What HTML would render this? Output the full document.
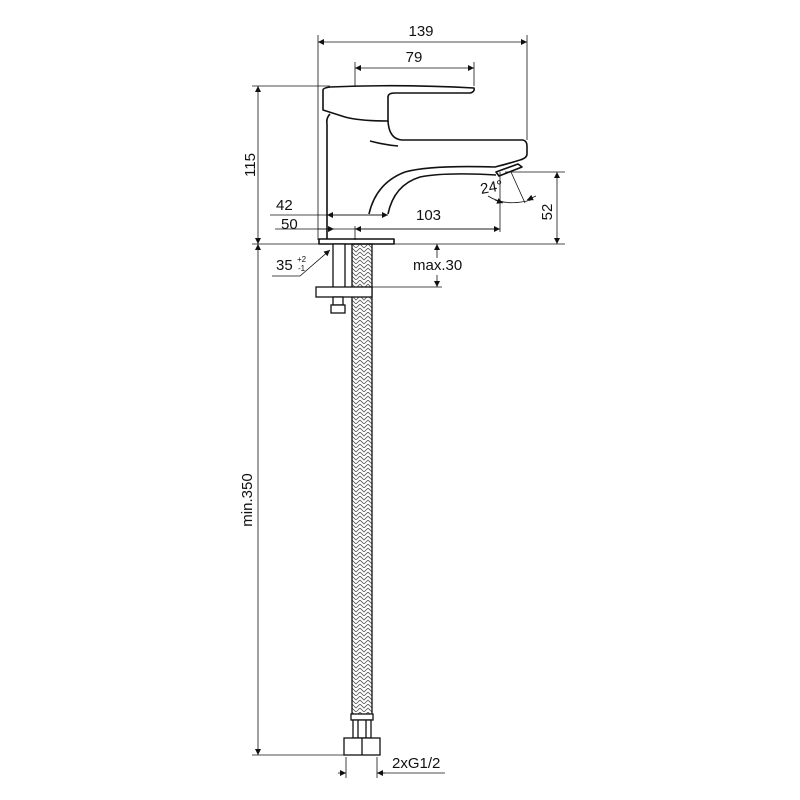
<!DOCTYPE html>
<html><head><meta charset="utf-8"><style>
html,body{margin:0;padding:0;background:#fff;width:800px;height:800px;overflow:hidden}
text{font-family:"Liberation Sans",Arial,sans-serif;font-size:15px;fill:#111}
</style></head><body>
<svg width="800" height="800" viewBox="0 0 800 800" xmlns="http://www.w3.org/2000/svg">
<defs>
<marker id="a" viewBox="0 0 10 10" refX="10" refY="5" markerWidth="10" markerHeight="6" orient="auto-start-reverse" markerUnits="userSpaceOnUse"><path d="M0,0L10,5L0,10z" fill="#111"/></marker>
<pattern id="br" width="8" height="8" patternUnits="userSpaceOnUse"><path d="M0,0L4,4L8,0M0,4L4,8L8,4" stroke="#555" stroke-width="0.8" fill="none"/></pattern>
</defs>
<g stroke="#111" fill="none" stroke-width="0.8">
<line x1="318" y1="35" x2="318" y2="240"/>
<line x1="527" y1="35" x2="527" y2="140"/>
<line x1="355" y1="62" x2="355" y2="87"/>
<line x1="474" y1="62" x2="474" y2="86"/>
<line x1="252" y1="86" x2="330" y2="86"/>
<line x1="252" y1="244" x2="565" y2="244"/>
<line x1="505" y1="172" x2="565" y2="172"/>
<line x1="270" y1="215" x2="388" y2="215"/>
<line x1="275" y1="229" x2="500" y2="229"/>
<line x1="500" y1="172" x2="500" y2="232"/>
<line x1="355" y1="226" x2="355" y2="240"/>
<line x1="372" y1="287" x2="442" y2="287"/>
<line x1="252" y1="755" x2="345" y2="755"/>
<line x1="346" y1="757" x2="346" y2="778"/>
<line x1="377" y1="757" x2="377" y2="778"/>
<line x1="377" y1="773" x2="445" y2="773"/>
<line x1="318" y1="42" x2="527" y2="42" marker-start="url(#a)" marker-end="url(#a)"/>
<line x1="355" y1="68" x2="474" y2="68" marker-start="url(#a)" marker-end="url(#a)"/>
<line x1="258" y1="86" x2="258" y2="244" marker-start="url(#a)" marker-end="url(#a)"/>
<line x1="258" y1="244" x2="258" y2="755" marker-start="url(#a)" marker-end="url(#a)"/>
<line x1="557" y1="172" x2="557" y2="244" marker-start="url(#a)" marker-end="url(#a)"/>
<line x1="327" y1="215" x2="388" y2="215" marker-start="url(#a)" marker-end="url(#a)"/>
<line x1="318" y1="229" x2="334" y2="229" marker-end="url(#a)"/>
<line x1="355" y1="229" x2="395" y2="229" marker-start="url(#a)"/>
<line x1="395" y1="229" x2="500" y2="229" marker-end="url(#a)"/>
<line x1="437" y1="258" x2="437" y2="244" marker-end="url(#a)"/>
<line x1="437" y1="275" x2="437" y2="287" marker-end="url(#a)"/>
<line x1="338" y1="773" x2="346" y2="773" marker-end="url(#a)"/>
<line x1="385" y1="773" x2="377" y2="773" marker-end="url(#a)"/>
<polyline points="272,276 300,276 330,250" marker-end="url(#a)"/>
<line x1="511" y1="172" x2="525" y2="203"/>
<path d="M488,196 Q505,207 531,200"/>
<line x1="495" y1="200" x2="503" y2="203" marker-end="url(#a)"/>
<line x1="536" y1="196" x2="527" y2="200" marker-end="url(#a)"/>
</g>
<g stroke="#111" stroke-width="1.6" fill="none" stroke-linejoin="round">
<path d="M323,90 L323,110 L345,117 Q360,121 388,121 L388,97 Q388,93 395,93 L470,93 Q475,92 474,88 Q400,84 330,87 Q323,88 323,90z"/>
<path d="M388,121 Q389,139 402,140 L523,140 Q527,141 527,146 L527,154 Q527,158 520,160"/>
<path d="M370,141 Q385,145 398,146"/>
<path d="M330,114 Q326,118 327,124 L327,239"/>
<path d="M369,214 Q376,183 405,172 Q430,165 495,167 Q514,162 520,160"/>
<path d="M388,214 Q394,185 420,177 Q445,172 496,175"/>
<path d="M496,172 L518,164 L522,167 L499,176z"/>
<rect x="319" y="239" width="75" height="5"/>
</g>
<g stroke="#111" stroke-width="1.3">
<rect x="333" y="244" width="12" height="45" fill="#fff"/>
<rect x="352" y="244" width="20" height="472" fill="url(#br)"/>
<rect x="316" y="287" width="56" height="10" fill="#fff"/>
<rect x="333" y="297" width="10" height="8" fill="#fff"/>
<rect x="331" y="305" width="14" height="8" fill="#fff"/>
<rect x="351" y="714" width="22" height="6" fill="#fff"/>
<rect x="353" y="720" width="18" height="18" fill="#fff"/>
<line x1="358" y1="720" x2="358" y2="738"/><line x1="366" y1="720" x2="366" y2="738"/>
<rect x="344" y="738" width="36" height="17" fill="#fff"/>
<line x1="362" y1="738" x2="362" y2="755"/>
</g>
<text x="421" y="36" text-anchor="middle">139</text>
<text x="414" y="62" text-anchor="middle">79</text>
<text x="255" y="165" text-anchor="middle" transform="rotate(-90 255 165)">115</text>
<text x="252" y="500" text-anchor="middle" transform="rotate(-90 252 500)">min.350</text>
<text x="552" y="212" text-anchor="middle" transform="rotate(-90 552 212)">52</text>
<text x="276" y="210">42</text>
<text x="281" y="229">50</text>
<text x="416" y="220">103</text>
<text x="480" y="192" transform="rotate(-10 492 186)">24°</text>
<text x="276" y="270">35</text>
<text x="297" y="262" style="font-size:8px">+2</text>
<text x="298" y="271" style="font-size:8px">-1</text>
<text x="413" y="270">max.30</text>
<text x="392" y="768">2xG1/2</text>
</svg>
</body></html>
